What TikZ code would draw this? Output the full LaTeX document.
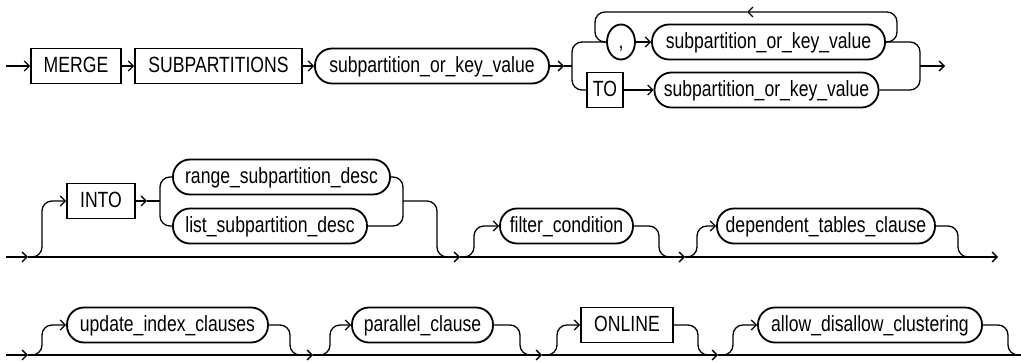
\documentclass[tikz,border=0pt]{standalone}
\usepackage{fontspec}
\setmainfont{Liberation Sans}[FakeStretch=0.8]
\usetikzlibrary{arrows.meta,shapes.geometric}
\begin{document}
\begin{tikzpicture}[x=1pt,y=-1pt,
  lbl/.style={font=\fontsize{22}{26}\selectfont, inner sep=0pt, minimum height=35pt, text height=17pt, text depth=3pt, line width=1.8pt, draw},
  kw/.style={lbl, rectangle},
  nt/.style={lbl, rectangle, rounded corners=17pt},
  ln/.style={line width=1.3pt},
  ar/.style={ln, -{Straight Barb[length=5pt,width=10pt]}},
  rc/.style={rounded corners=10pt}
]
\useasboundingbox (0,0) rectangle (1021,363);
% ---------- row 1 ----------
\node[kw, minimum width=90] (merge) at (76,66) {MERGE};
\node[kw, minimum width=167] (subp) at (218.5,66) {SUBPARTITIONS};
\node[nt, minimum width=234] (skv1) at (432,66) {subpartition\_or\_key\_value};
\node[lbl, ellipse, minimum width=28, minimum height=35] (comma) at (621,42) {,};
\node[nt, minimum width=233] (skv2) at (768.5,42) {subpartition\_or\_key\_value};
\node[kw, minimum width=36] (to) at (605,90) {TO};
\node[nt, minimum width=224] (skv3) at (766.5,90) {subpartition\_or\_key\_value};
\coordinate (s1) at (6,66);
\coordinate (a1) at (564,66);
\coordinate (e1) at (945,66);
\draw[ar] (s1) -- (merge.west);
\draw[ar] (merge.east) -- (subp.west);
\draw[ar] (subp.east) -- (skv1.west);
\draw[ar] (skv1.east) -- (a1);
\draw[ln] (a1) -- (572,66);
\draw[ln, rc] (comma.west) -| (572,90) -- (to.west);
\draw[ar] (comma.east) -- (skv2.west);
\draw[ar] (to.east) -- (skv3.west);
\draw[ar, rc] (skv2.east) -- (897,42) |- (747,12);
\draw[ln, rc] (747,12) -| (595,42) -- (comma.west);
\draw[ln, rc] (skv2.east) -| (920,90) -- (skv3.east);
\draw[ar] (920,66) -- (e1);
% ---------- row 2 ----------
\node[kw, minimum width=68] (into) at (101,201) {INTO};
\node[nt, minimum width=217] (range) at (281.5,177) {range\_subpartition\_desc};
\node[nt, minimum width=194] (list) at (270,226) {list\_subpartition\_desc};
\node[nt, minimum width=133] (filter) at (566.5,226) {filter\_condition};
\node[nt, minimum width=218] (dep) at (826,226) {dependent\_tables\_clause};
\coordinate (s2) at (6,257);
\coordinate (b1) at (28,257);
\coordinate (b2) at (460,257);
\coordinate (b3) at (685,257);
\coordinate (e2) at (998,257);
\draw[ar] (s2) -- (b1);
\draw[ar] (b1) -- (b2);
\draw[ar] (b2) -- (b3);
\draw[ar] (b3) -- (e2);
\draw[ar, rc] (b1) -| (42,201) -- (into.west);
\draw[ar] (into.east) -- (147,201);
\draw[ln] (147,201) -- (160,201);
\draw[ln, rc] (range.west) -| (160,226) -- (list.west);
\draw[ln, rc] (range.east) -| (403,226) -- (list.east);
\draw[ln, rc] (403,201) -| (437,257) -- (449,257);
\draw[ar, rc] (b2) -| (474,226) -- (filter.west);
\draw[ln, rc] (filter.east) -| (659,257) -- (671,257);
\draw[ar, rc] (b3) -| (697,226) -- (dep.west);
\draw[ln, rc] (dep.east) -| (958,257) -- (970,257);
% ---------- row 3 ----------
\node[nt, minimum width=201] (upd) at (167.5,325) {update\_index\_clauses};
\node[nt, minimum width=141] (par) at (422.5,325) {parallel\_clause};
\node[kw, minimum width=92] (online) at (627,325) {ONLINE};
\node[nt, minimum width=224] (allow) at (870,325) {allow\_disallow\_clustering};
\coordinate (s3) at (6,355);
\coordinate (c1) at (28,355);
\coordinate (c2) at (313,355);
\coordinate (c3) at (542,355);
\coordinate (c4) at (718,355);
\coordinate (e3) at (1021,355);
\draw[ar] (s3) -- (c1);
\draw[ar] (c1) -- (c2);
\draw[ar] (c2) -- (c3);
\draw[ar] (c3) -- (c4);
\draw[ln] (c4) -- (e3);
\draw[ar, rc] (c1) -| (42,325) -- (upd.west);
\draw[ln, rc] (upd.east) -| (290,355) -- (302,355);
\draw[ar, rc] (c2) -| (330,325) -- (par.west);
\draw[ln, rc] (par.east) -| (520,355) -- (532,355);
\draw[ar, rc] (c3) -| (557,325) -- (online.west);
\draw[ln, rc] (online.east) -| (698,355) -- (710,355);
\draw[ar, rc] (c4) -| (733,325) -- (allow.west);
\draw[ln, rc] (allow.east) -| (1008,355) -- (1020,355);
\end{tikzpicture}
\end{document}
